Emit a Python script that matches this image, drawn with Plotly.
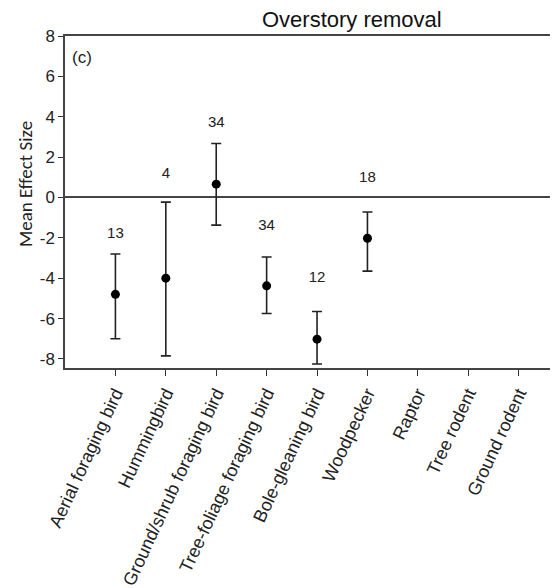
import plotly.graph_objects as go

categories = ["Aerial foraging bird", "Hummingbird", "Ground/shrub foraging bird",
              "Tree-foliage foraging bird", "Bole-gleaning bird", "Woodpecker",
              "Raptor", "Tree rodent", "Ground rodent"]
mean_es = [-4.8, -4.0, 0.66, -4.38, -7.02, -2.02]
upper_ci = [-2.8, -0.23, 2.67, -2.95, -5.65, -0.72]
lower_ci = [-7.0, -7.85, -1.37, -5.75, -8.25, -3.65]
n_studies = ["13", "4", "34", "34", "12", "18"]
label_y = [-1.8, 1.14, 3.7, -1.42, -4.0, 0.94]
y_ticks = [-8, -6, -4, -2, 0, 2, 4, 6, 8]
y_ticktext = ["-8", "-6", "-4", "-2", "0", "2", "4", "6", "8"]

xpos = list(range(1, len(categories) + 1))
xs = xpos[:len(mean_es)]
err_plus = [u - m for u, m in zip(upper_ci, mean_es)]
err_minus = [m - l for m, l in zip(mean_es, lower_ci)]

FONT = "Liberation Sans, Arial, sans-serif"

fig = go.Figure()
fig.add_trace(go.Scatter(
    x=xs, y=mean_es, mode="markers",
    marker=dict(color="black", size=9),
    error_y=dict(type="data", symmetric=False, array=err_plus, arrayminus=err_minus,
                 color="#222222", thickness=1.6, width=5),
    showlegend=False, hoverinfo="skip"))
fig.add_trace(go.Scatter(
    x=xs, y=label_y, mode="text", text=n_studies,
    textfont=dict(family=FONT, size=15, color="#222222"),
    textposition="middle center", showlegend=False, hoverinfo="skip"))

# page body has an 8px margin, so the figure is sized/offset to compensate
fig.update_layout(
    width=550, height=580,
    margin=dict(l=57, r=0, t=28, b=220),
    plot_bgcolor="white", paper_bgcolor="white",
    font=dict(family=FONT, color="#222222"),
    xaxis=dict(range=[0, 9.78], tickmode="array", tickvals=xpos, ticktext=categories,
               tickangle=-65, ticks="outside", ticklen=6, tickcolor="#333333",
               tickfont=dict(family=FONT, size=18, color="#222222"),
               showline=True, linecolor="#444444", linewidth=1.5, mirror=True,
               showgrid=False, zeroline=False, automargin=False),
    yaxis=dict(range=[-8.45, 8], tickmode="array", tickvals=y_ticks, ticktext=y_ticktext,
               ticks="outside", ticklen=5, tickcolor="#333333",
               tickfont=dict(family=FONT, size=17, color="#222222"),
               showline=True, linecolor="#444444", linewidth=1.5,
               showgrid=False, zeroline=True, zerolinecolor="#444444", zerolinewidth=1.5,
               automargin=False),
    annotations=[
        dict(text="Overstory removal", xref="paper", yref="paper", x=(352 - 65) / 493, y=1.0,
             yshift=17, xanchor="center", yanchor="middle", showarrow=False,
             font=dict(family=FONT, size=22, color="#111111")),
        dict(text="(c)", xref="paper", yref="paper", x=5 / 493, y=1.0, yshift=-21,
             xanchor="left", yanchor="middle", showarrow=False,
             font=dict(family=FONT, size=17, color="#222222")),
        dict(text="Mean Effect Size", xref="paper", yref="paper", x=0, xshift=-40,
             y=(368 - 184) / 332, textangle=-90, xanchor="center", yanchor="middle",
             showarrow=False, font=dict(family="Carlito, Liberation Sans, sans-serif", size=19, color="#222222")),
    ],
)

fig.write_html("out.html")
